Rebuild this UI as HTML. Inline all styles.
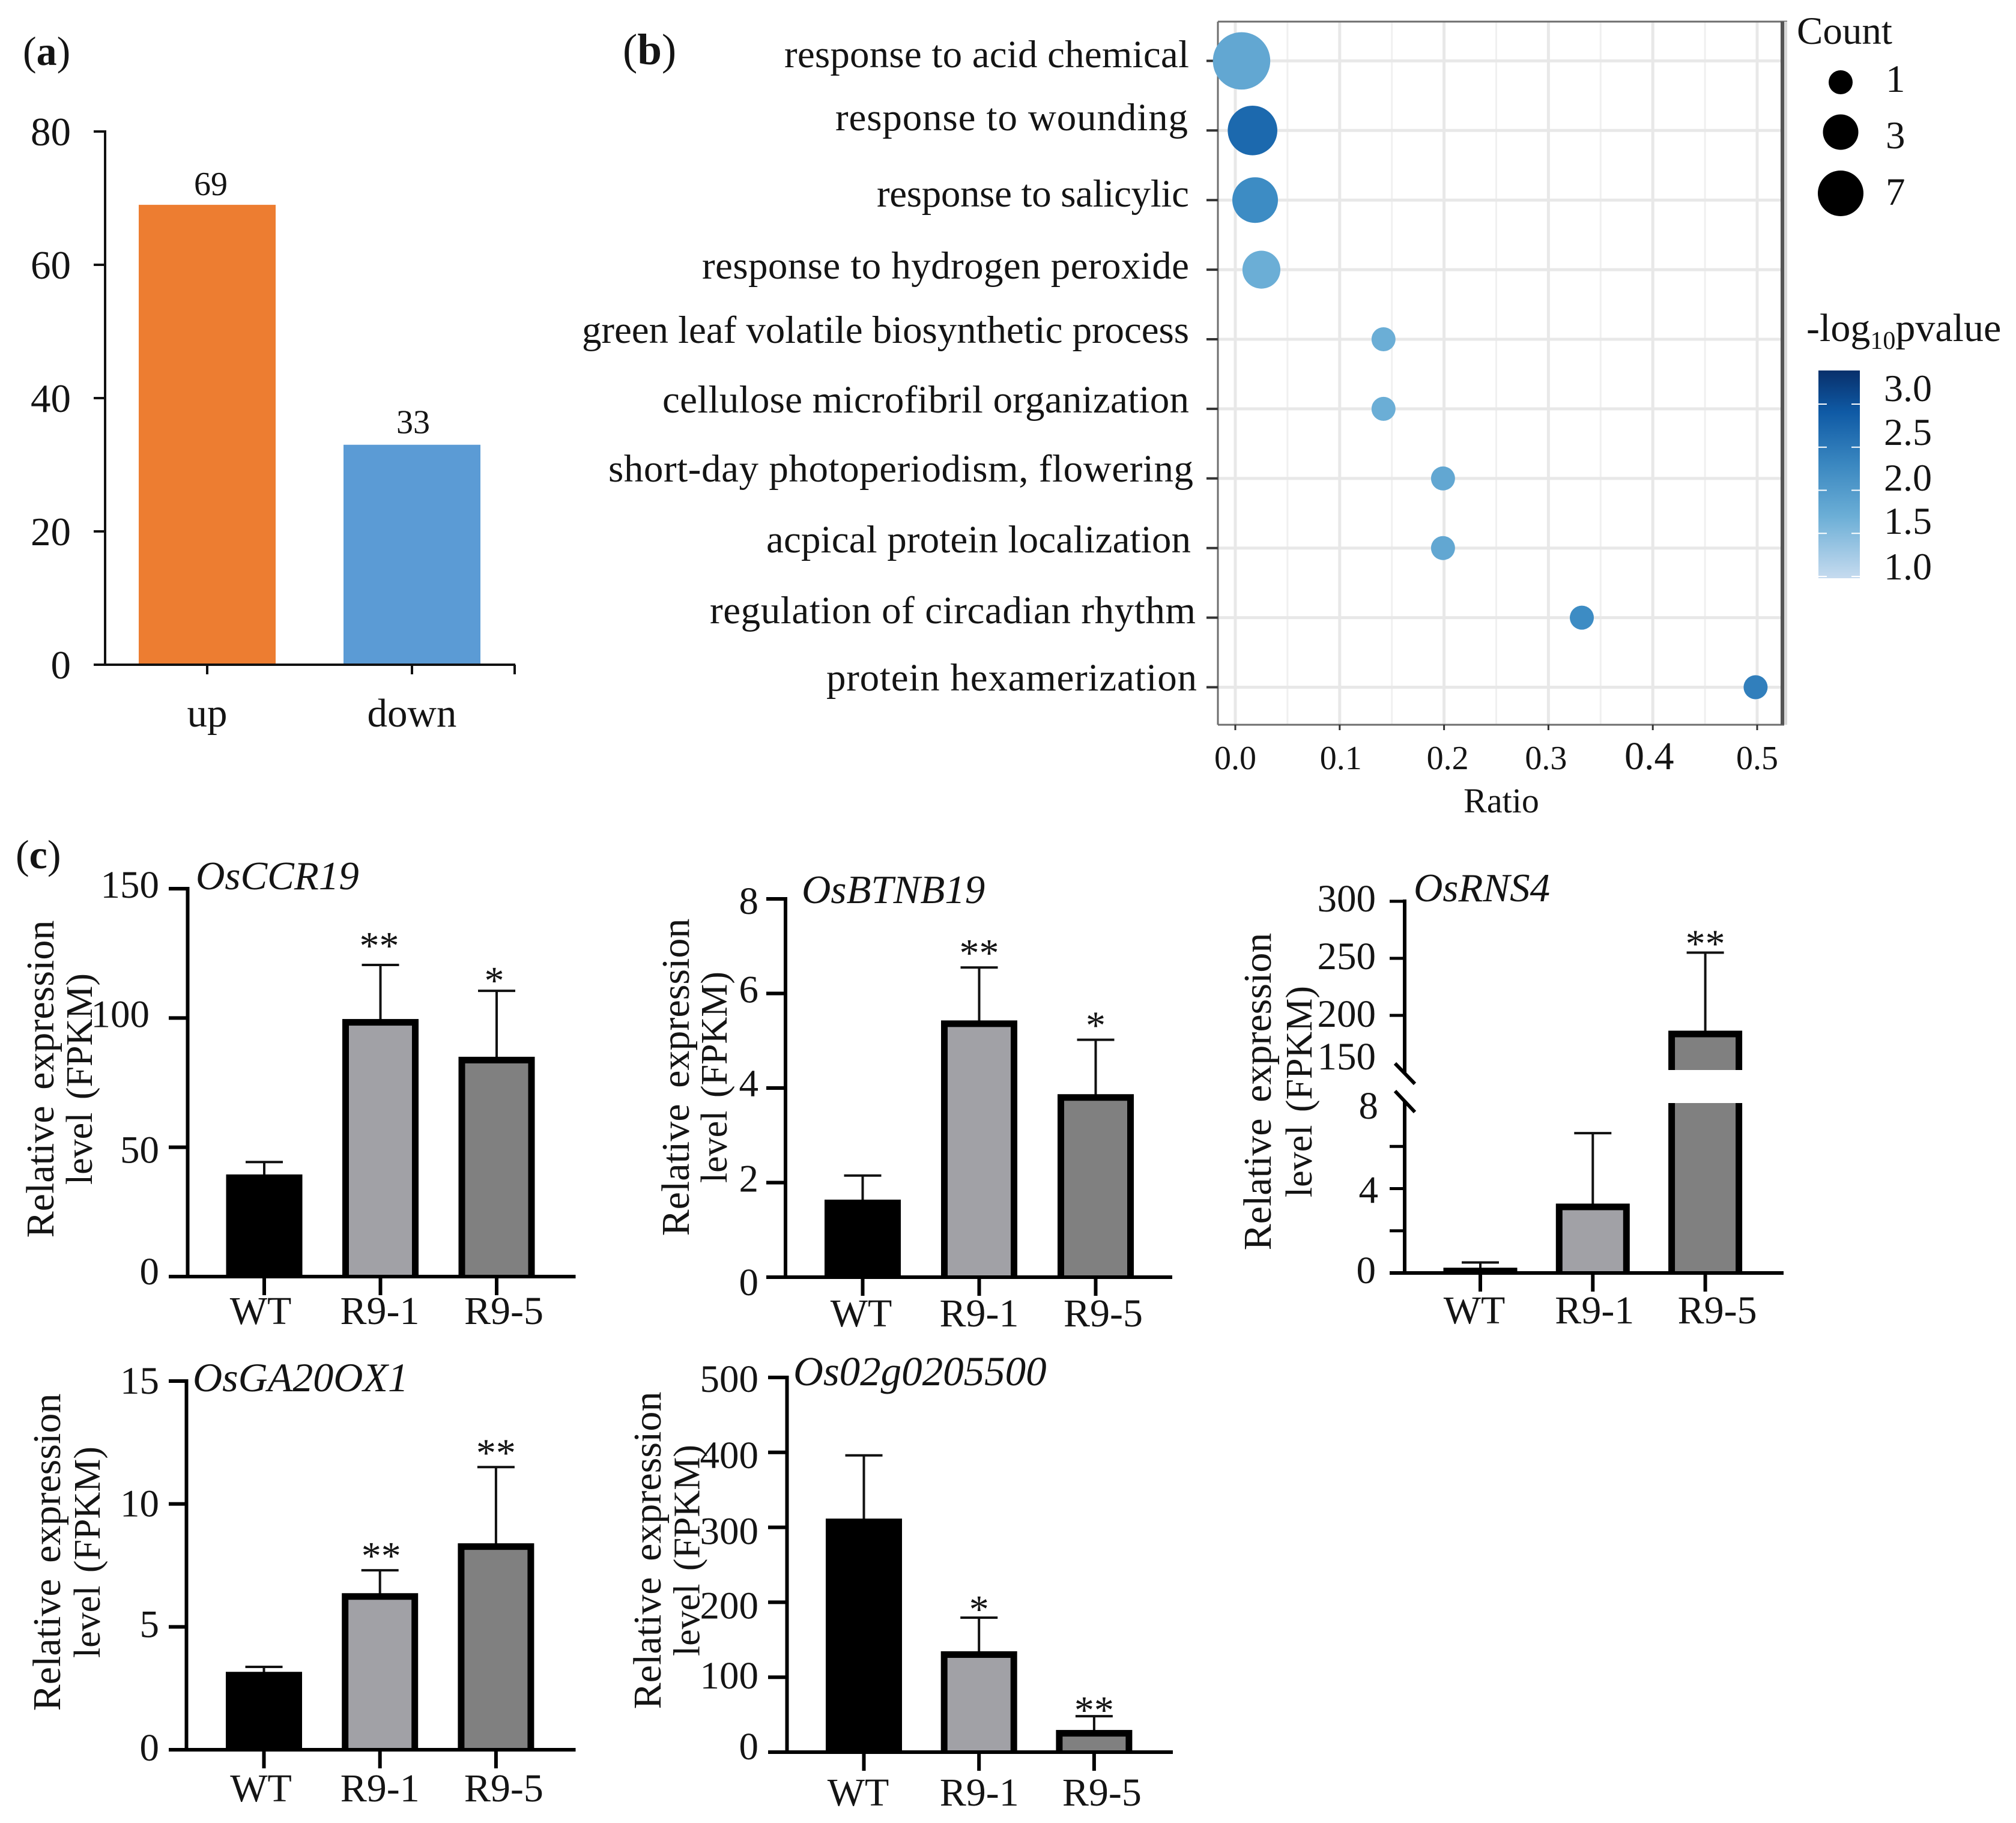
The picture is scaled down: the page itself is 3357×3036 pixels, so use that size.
<!DOCTYPE html>
<html lang="en">
<head>
<meta charset="utf-8">
<title>Differential expression figure</title>
<style>
  html, body { margin: 0; padding: 0; background: #fff; }
  svg { display: block; }
  text { font-family: "Liberation Serif", serif; fill: #141414; }
</style>
</head>
<body>
<svg id="figure" xmlns="http://www.w3.org/2000/svg" width="3357" height="3036" viewBox="0 0 3357 3036">
  <rect x="0" y="0" width="3357" height="3036" fill="#ffffff"/>
  <defs>
    <linearGradient id="pvalue-gradient" x1="0" y1="0" x2="0" y2="1">
      <stop offset="0" stop-color="#08306b"/>
      <stop offset="0.2" stop-color="#0f5aa5"/>
      <stop offset="0.45" stop-color="#3a87c0"/>
      <stop offset="0.7" stop-color="#6baed6"/>
      <stop offset="1" stop-color="#c6dbef"/>
    </linearGradient>
  </defs>
  <text x="38" y="108" font-size="68">(<tspan font-weight="bold">a</tspan>)</text>
  <text x="1037" y="107" font-size="73">(<tspan font-weight="bold">b</tspan>)</text>
  <text x="26" y="1446" font-size="68">(<tspan font-weight="bold">c</tspan>)</text>
  <g id="panel-a"></g>
  <g id="panel-b"></g>
  <g id="panel-c"></g>
</svg>
<script>
/* ---------- panel (a) data ---------- */
const degCategories = ['up', 'down'];
const degValues = [69, 33];
const degTicks = [0, 20, 40, 60, 80];

/* ---------- panel (b) data ---------- */
const goTerms = [
  'response to acid chemical', 'response to wounding', 'response to salicylic',
  'response to hydrogen peroxide', 'green leaf volatile biosynthetic process',
  'cellulose microfibril organization', 'short-day photoperiodism, flowering',
  'acpical protein localization', 'regulation of circadian rhythm', 'protein hexamerization'
];
const goRatios = [0.006, 0.0165, 0.019, 0.025, 0.142, 0.142, 0.199, 0.199, 0.332, 0.4985];
const goCounts = [14, 9, 7, 4, 1, 1, 1, 1, 1, 1];
const goPvalues = [1.6, 2.4, 2.0, 1.5, 1.5, 1.5, 1.6, 1.6, 2.0, 2.15];
const ratioTicks = [0, 0.1, 0.2, 0.3, 0.4, 0.5];
const countLegend = [1, 3, 7];
const pvalueTicks = [1, 1.5, 2, 2.5, 3];

/* ---------- panel (c) data ---------- */
const groupNames = ['WT', 'R9-1', 'R9-5'];
const ccr19Means = [39.5, 99.6, 85];
const ccr19ErrorTops = [44.3, 120.5, 110.5];
const ccr19Stars = ['', '**', '*'];
const ccr19Ticks = [0, 50, 100, 150];
const btnb19Means = [1.64, 5.43, 3.87];
const btnb19ErrorTops = [2.15, 6.55, 5.02];
const btnb19Stars = ['', '**', '*'];
const btnb19Ticks = [0, 2, 4, 6, 8];
const rns4Means = [0.25, 3.29, 186.6];
const rns4ErrorTops = [0.5, 6.63, 255];
const rns4Stars = ['', '', '**'];
const rns4Ticks = [0, 2, 4, 6, 200, 250, 300];
const rns4TickLabels = [0, 4, 8, 150, 200, 250, 300];
const ga20Means = [3.17, 6.37, 8.4];
const ga20ErrorTops = [3.37, 7.3, 11.5];
const ga20Stars = ['', '**', '**'];
const ga20Ticks = [0, 5, 10, 15];
const os02Means = [311.7, 134.6, 29.6];
const os02ErrorTops = [396, 179.5, 48];
const os02Stars = ['', '*', '**'];
const os02Ticks = [0, 100, 200, 300, 400, 500];

/* ---------- helpers ---------- */
const NS = 'http://www.w3.org/2000/svg';
function add(parent, tag, name, attrs, content) {
  const el = document.createElementNS(NS, tag);
  
  
  for (const k in attrs) el.setAttribute(k, attrs[k]);
  if (content !== undefined) el.textContent = content;
  parent.appendChild(el);
  return el;
}
function line(parent, name, x1, y1, x2, y2, stroke, width) {
  return add(parent, 'line', name, { x1: x1, y1: y1, x2: x2, y2: y2, stroke: stroke, 'stroke-width': width });
}
function rect(parent, name, x, y, w, h, fill) {
  return add(parent, 'rect', name, { x: x, y: y, width: w, height: Math.max(0, h), fill: fill });
}
function linear(d0, d1, r0, r1) {
  return function (v) { return r0 + (v - d0) * (r1 - r0) / (d1 - d0); };
}

/* ---------- panel (a) ---------- */
(function () {
  const g = document.getElementById('panel-a');
  const y = linear(0, 80, 1107, 219);
  const centers = [345, 686];
  const valueLabelShift = [6, 2];
  const valueLabelLift = [16, 19];
  const barW = 228;
  const barFill = ['#ed7d31', '#5b9bd5'];
  degCategories.forEach(function (c, i) {
    rect(g, 'bar-' + c, centers[i] - barW / 2, y(degValues[i]), barW, y(0) - y(degValues[i]), barFill[i]);
    add(g, 'text', 'value-label-' + c, { x: centers[i] + valueLabelShift[i], y: y(degValues[i]) - valueLabelLift[i], 'font-size': 56, 'text-anchor': 'middle' }, String(degValues[i]));
    line(g, 'x-tick-' + c, centers[i], y(0), centers[i], 1123, '#111', 4);
    add(g, 'text', 'x-label-' + c, { x: centers[i], y: 1210, 'font-size': 67, 'text-anchor': 'middle' }, c);
  });
  line(g, 'y-axis', 175, 217, 175, 1109, '#111', 4);
  line(g, 'x-axis', 156, 1107, 858, 1107, '#111', 4);
  line(g, 'x-axis-end-tick', 857, 1107, 857, 1123, '#111', 4);
  degTicks.forEach(function (t) {
    line(g, 'y-tick', 156, y(t), 175, y(t), '#111', 4);
    add(g, 'text', 'y-tick-label', { x: 118, y: y(t) + 23, 'font-size': 67, 'text-anchor': 'end' }, String(t));
  });
})();

/* ---------- panel (b) ---------- */
(function () {
  const g = document.getElementById('panel-b');
  const left = 2028, right = 2968, top = 36, bottom = 1207;
  const x = linear(0, 0.5, 2057, 2926);
  const rowY = function (i) { return 101.4 + i * 115.9; };
  const radius = function (c) { return 20 * Math.pow(c, 0.33); };
  const stops = [[1, [198, 219, 239]], [1.5, [107, 174, 214]], [2, [61, 140, 196]], [2.5, [20, 96, 168]], [3, [8, 48, 107]]];
  const colour = function (p) {
    for (let i = 1; i < stops.length; i++) {
      if (p <= stops[i][0]) {
        const t = (p - stops[i - 1][0]) / (stops[i][0] - stops[i - 1][0]);
        const c = stops[i - 1][1].map(function (a, k) { return Math.round(a + t * (stops[i][1][k] - a)); });
        return 'rgb(' + c.join(',') + ')';
      }
    }
    return 'rgb(8,48,107)';
  };
  ratioTicks.forEach(function (t, i) {
    line(g, 'major-vertical-gridline', x(t), top, x(t), bottom, '#e8e8e8', 5);
    if (i < ratioTicks.length - 1) line(g, 'minor-vertical-gridline', x(t + 0.05), top, x(t + 0.05), bottom, '#f0f0f0', 3);
  });
  goTerms.forEach(function (t, i) {
    line(g, 'horizontal-gridline', left, rowY(i), right, rowY(i), '#e8e8e8', 5);
  });
  line(g, 'panel-border-top', left, top, 2976, top, '#6e6e6e', 3);
  line(g, 'panel-border-left', left, top, left, bottom, '#6e6e6e', 3);
  line(g, 'panel-border-bottom', left, bottom, 2971, bottom, '#6e6e6e', 3);
  line(g, 'panel-border-right-shadow', 2973.5, top, 2973.5, bottom, '#d8d8d8', 5);
  line(g, 'panel-border-right', right, top, right, bottom, '#555555', 6);

  const labelRight = [1980, 1978, 1980, 1980, 1980, 1980, 1987, 1983, 1991, 1993];
  const labelBase = [112, 217, 344, 464, 571, 687, 802, 920, 1038, 1150];
  const labelWidth = [674, 587, 520, 811, 1011, 877, 974, 707, 809, 617];
  goTerms.forEach(function (t, i) {
    line(g, 'y-tick', 2009, rowY(i), left, rowY(i), '#333', 4);
    add(g, 'text', 'term-label', { x: labelRight[i], y: labelBase[i], 'font-size': 65, 'text-anchor': 'end', textLength: labelWidth[i], lengthAdjust: 'spacing' }, t);
    add(g, 'circle', 'term-dot', { cx: x(goRatios[i]), cy: rowY(i), r: radius(goCounts[i]), fill: colour(goPvalues[i]) });
  });
  const tickLabelShift = [0, 2, 6, -4, -6, 0];
  ratioTicks.forEach(function (t, i) {
    line(g, 'x-tick', x(t), bottom, x(t), bottom + 9, '#333', 3);
    const big = t === 0.4;
    add(g, 'text', 'x-tick-label', { x: x(t) + tickLabelShift[i], y: 1281, 'font-size': big ? 66 : 56, 'text-anchor': 'middle' }, t.toFixed(1));
  });
  add(g, 'text', 'x-axis-title', { x: 2500, y: 1353, 'font-size': 58, 'text-anchor': 'middle' }, 'Ratio');

  /* size legend */
  add(g, 'text', 'size-legend-title', { x: 2992, y: 73, 'font-size': 65 }, 'Count');
  const legendY = [137, 220, 322];
  const legendBase = [153, 247, 341];
  const legendR = [20, 29.5, 38];
  countLegend.forEach(function (c, i) {
    add(g, 'circle', 'size-legend-dot', { cx: 3065, cy: legendY[i], r: legendR[i], fill: '#000' });
    add(g, 'text', 'size-legend-label', { x: 3140, y: legendBase[i], 'font-size': 65 }, String(c));
  });

  /* colour legend */
  const title = add(g, 'text', 'colorbar-title', { x: 3008, y: 568, 'font-size': 66 });
  title.appendChild(document.createTextNode('-log'));
  add(title, 'tspan', 'colorbar-title-subscript', { 'font-size': 42, dy: 13 }, '10');
  add(title, 'tspan', 'colorbar-title-rest', { dy: -13 }, 'pvalue');
  rect(g, 'colorbar', 3028, 617, 69, 346, 'url(#pvalue-gradient)');
  const cb = linear(1, 3, 960, 673);
  const cbBase = { 3: 668, 2.5: 741, 2: 817, 1.5: 889, 1: 965 };
  pvalueTicks.forEach(function (p) {
    line(g, 'colorbar-tick-left', 3028, cb(p), 3042, cb(p), '#ffffff', 2);
    line(g, 'colorbar-tick-right', 3083, cb(p), 3097, cb(p), '#ffffff', 2);
    add(g, 'text', 'colorbar-label', { x: 3137, y: cbBase[p], 'font-size': 64 }, p.toFixed(1));
  });
})();

/* ---------- panel (c) ---------- */
const barFills = ['#000000', '#a1a1a6', '#808080'];
function expressionChart(cfg, means, errorTops, stars, ticks, tickLabels) {
  const root = document.getElementById('panel-c');
  const g = add(root, 'g', 'expression-chart-' + cfg.name, {});
  const y = cfg.y;
  const zero = y(0);
  const b = 11;
  groupNames.forEach(function (name, i) {
    const cx = cfg.firstCenter + i * cfg.step;
    const x0 = cx - cfg.barW / 2;
    const errX = cx + cfg.errShift;
    line(g, 'error-bar-stem', errX, y(errorTops[i]), errX, y(means[i]) + 2, '#111', 4);
    line(g, 'error-bar-cap', errX - 31, y(errorTops[i]), errX + 31, y(errorTops[i]), '#111', 4);
    const topY = y(means[i]);
    rect(g, 'bar-' + name, x0, topY, cfg.barW, zero - topY, '#000');
    if (i > 0) rect(g, 'bar-fill-' + name, x0 + b, topY + b, cfg.barW - 2 * b, zero - topY - b, barFills[i]);
    if (cfg.breakTop !== undefined && means[i] > cfg.breakLow) {
      rect(g, 'bar-axis-break-gap', x0 - 1, cfg.breakTop, cfg.barW + 2, cfg.breakBottom - cfg.breakTop, '#fff');
    }
    line(g, 'x-tick', errX, zero, errX, zero + 31, '#000', 6);
    add(g, 'text', 'x-label-' + name, { x: cx + cfg.labelShift[i], y: cfg.xLabelBase, 'font-size': 66, 'text-anchor': 'middle' }, name);
    if (stars[i]) {
      add(g, 'text', 'significance-stars', { x: errX + cfg.starShift[i], y: y(errorTops[i]) - cfg.starGap[i] + 31, 'font-size': 66, 'text-anchor': 'middle' }, stars[i]);
    }
  });
  /* axes */
  if (cfg.breakTop !== undefined) {
    line(g, 'y-axis-upper', cfg.axisX, y(300) - 3, cfg.axisX, 1788, '#000', 6);
    line(g, 'y-axis-lower', cfg.axisX, 1835, cfg.axisX, zero + 3, '#000', 6);
    line(g, 'axis-break-mark-upper', cfg.axisX - 16, 1771, cfg.axisX + 17, 1805, '#000', 6);
    line(g, 'axis-break-mark-lower', cfg.axisX - 16, 1817, cfg.axisX + 17, 1852, '#000', 6);
  } else {
    line(g, 'y-axis', cfg.axisX, y(ticks[ticks.length - 1]) - 3, cfg.axisX, zero + 3, '#000', 6);
  }
  line(g, 'x-axis', cfg.axisLeft, zero, cfg.axisRight, zero, '#000', 6);
  ticks.forEach(function (t) {
    line(g, 'y-tick', cfg.axisLeft, y(t), cfg.axisX, y(t), '#000', cfg.tickW);
  });
  tickLabels.forEach(function (t) {
    const nudge = cfg.labelNudge[t] || [0, 15];
    add(g, 'text', 'y-tick-label', { x: cfg.tickLabelRight + nudge[0], y: y(t) + nudge[1], 'font-size': 65, 'text-anchor': 'end' }, String(t));
  });
  add(g, 'text', 'gene-name', { x: cfg.geneX, y: cfg.geneBase, 'font-size': cfg.geneSize, 'font-style': 'italic' }, cfg.name);
  add(g, 'text', 'y-axis-title-line-1', { x: 0, y: 0, 'font-size': 66, 'text-anchor': 'middle', 'word-spacing': 10, transform: 'translate(' + cfg.title1X + ' ' + cfg.titleY + ') rotate(-90)' }, 'Relative expression');
  add(g, 'text', 'y-axis-title-line-2', { x: 0, y: 0, 'font-size': 62, 'text-anchor': 'middle', 'word-spacing': 6, transform: 'translate(' + cfg.title2X + ' ' + cfg.titleY + ') rotate(-90)' }, 'level (FPKM)');
}

expressionChart({
  name: 'OsCCR19', y: linear(0, 150, 2126, 1480), firstCenter: 440, step: 193.5, barW: 127, errShift: 0,
  axisX: 312.5, axisLeft: 281, axisRight: 958.5, tickW: 6, tickLabelRight: 265,
  labelNudge: { 0: [0, 13], 50: [0, 26], 100: [-16, 15], 150: [0, 15] },
  labelShift: [-6, -1, 12], xLabelBase: 2205, starGap: [33, 41, 26], starShift: [0, -2, -4],
  geneX: 326, geneBase: 1481, geneSize: 67, title1X: 89, title2X: 153, titleY: 1797
}, ccr19Means, ccr19ErrorTops, ccr19Stars, ccr19Ticks, ccr19Ticks);

expressionChart({
  name: 'OsBTNB19', y: linear(0, 8, 2127, 1497), firstCenter: 1436.5, step: 194, barW: 127, errShift: 0,
  axisX: 1308, axisLeft: 1276, axisRight: 1952, tickW: 6, tickLabelRight: 1263,
  labelNudge: { 0: [0, 30], 2: [0, 15], 4: [0, 14], 6: [0, 15], 8: [0, 25] },
  labelShift: [-2.5, 0, 12.5], xLabelBase: 2209, starGap: [33, 33, 33], starShift: [0, 0, 0],
  geneX: 1335, geneBase: 1504, geneSize: 67, title1X: 1147, title2X: 1210, titleY: 1794
}, btnb19Means, btnb19ErrorTops, btnb19Stars, btnb19Ticks, btnb19Ticks);

const rns4Upper = linear(150, 300, 1786, 1501);
const rns4Lower = linear(0, 8, 2120, 1839);
expressionChart({
  name: 'OsRNS4', y: function (v) { return v >= 150 ? rns4Upper(v) : rns4Lower(v); },
  firstCenter: 2465, step: 187.3, barW: 123, errShift: 0,
  axisX: 2339, axisLeft: 2314, axisRight: 2970, tickW: 5, tickLabelRight: 2291,
  breakTop: 1782, breakBottom: 1837, breakLow: 8,
  labelNudge: { 0: [0, 17], 4: [4, 24], 8: [4, 24], 150: [0, -5], 200: [0, 19], 250: [0, 18], 300: [0, 17] },
  labelShift: [-10, 3, 20], xLabelBase: 2204, starGap: [24, 24, 24], starShift: [0, 0, 0],
  geneX: 2354, geneBase: 1501, geneSize: 67, title1X: 2116, title2X: 2184, titleY: 1818
}, rns4Means, rns4ErrorTops, rns4Stars, rns4Ticks, rns4TickLabels);

expressionChart({
  name: 'OsGA20OX1', y: linear(0, 15, 2914, 2300), firstCenter: 439.5, step: 193.2, barW: 127, errShift: 0,
  axisX: 310.5, axisLeft: 281, axisRight: 958.5, tickW: 6, tickLabelRight: 265,
  labelNudge: { 0: [0, 18], 5: [0, 17], 10: [0, 21], 15: [0, 21] },
  labelShift: [-5, 0, 13], xLabelBase: 3000, starGap: [33, 33, 33], starShift: [0, 2, 0],
  geneX: 321, geneBase: 2317, geneSize: 68, title1X: 100, title2X: 166, titleY: 2585
}, ga20Means, ga20ErrorTops, ga20Stars, ga20Ticks, ga20Ticks);

expressionChart({
  name: 'Os02g0205500', y: linear(0, 500, 2918, 2294), firstCenter: 1438.5, step: 191.7, barW: 127, errShift: 0,
  axisX: 1310.5, axisLeft: 1279, axisRight: 1953, tickW: 6, tickLabelRight: 1263,
  labelNudge: { 0: [0, 12], 100: [0, 19], 200: [0, 27], 300: [0, 28], 400: [0, 26], 500: [0, 24] },
  labelShift: [-9.5, 0.5, 13], xLabelBase: 3007, starGap: [21, 23, 19], starShift: [0, 0, 0],
  geneX: 1321, geneBase: 2307, geneSize: 69, title1X: 1100, title2X: 1164.5, titleY: 2582
}, os02Means, os02ErrorTops, os02Stars, os02Ticks, os02Ticks);
</script>
</body>
</html>
